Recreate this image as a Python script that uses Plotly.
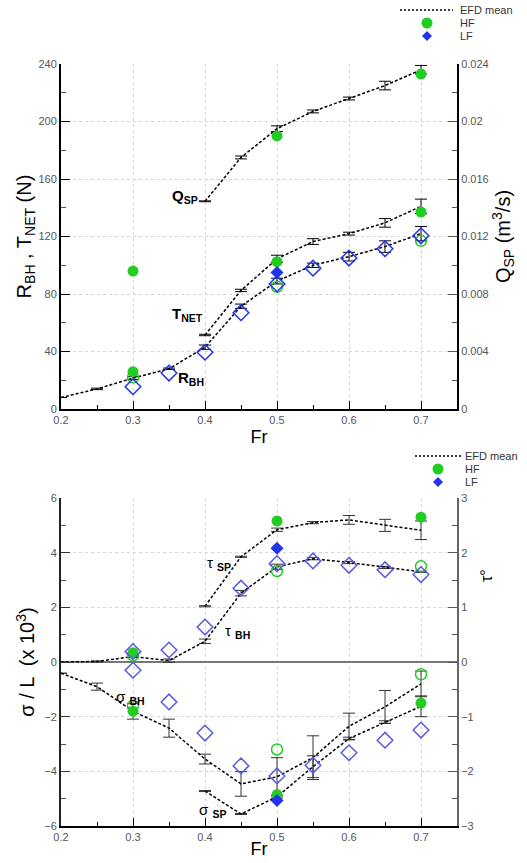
import plotly.graph_objects as go

# ---------------- data: top panel (forces / flow rate) ----------------
FR_BH = [0.2, 0.25, 0.3, 0.35, 0.4, 0.45, 0.5, 0.55, 0.6, 0.65, 0.7]
R_BH_EFD = [8, 14, 21.5, 28, 43, 71.5, 89, 100, 106, 113, 122]
R_BH_ERR = [0, 0.5, 1, 0.5, 1.5, 1.5, 2, 1.5, 3, 4, 5]

FR_SP = [0.4, 0.45, 0.5, 0.55, 0.6, 0.65, 0.7]
T_NET_EFD = [51.5, 82.5, 104.5, 116.5, 122, 129.5, 141]
T_NET_ERR = [0.5, 0.8, 2.5, 2, 1, 3, 5]
Q_SP_EFD = [0.01445, 0.0175, 0.0195, 0.0207, 0.0216, 0.0225, 0.0236]
Q_SP_ERR = [0.00003, 0.0001, 0.0002, 0.0001, 0.0001, 0.0003, 0.0003]

FR_HF = [0.3, 0.5, 0.7]
T_NET_HF = [26, 102.5, 137]
Q_SP_HF = [0.0096, 0.019, 0.0233]
R_BH_HF = [22, 85, 117]

FR_LF_T = [0.5]
T_NET_LF = [95]
FR_LF = [0.3, 0.35, 0.4, 0.45, 0.5, 0.55, 0.6, 0.65, 0.7]
R_BH_LF = [15.5, 25, 39.5, 67, 87, 98, 105, 111.5, 120.5]

# ---------------- data: bottom panel (sinkage / trim) ----------------
TAU_BH_EFD = [0, 0.01, 0.1, 0.025, 0.38, 1.26, 1.74, 1.89, 1.82, 1.73, 1.65]   # deg
TAU_BH_ERR = [0, 0.01, 0.02, 0.03, 0.04, 0.05, 0.05, 0.02, 0.02, 0.02, 0.01]
SIG_BH_EFD = [-0.41, -0.9, -1.8, -2.42, -3.55, -4.46, -4.2, -3.5, -2.35, -1.64, -0.8]  # x10^3
SIG_BH_ERR = [0, 0.13, 0.29, 0.33, 0.18, 0.45, 0.7, 0.8, 0.48, 0.6, 0.47]

TAU_SP_EFD = [1.02, 1.925, 2.42, 2.55, 2.6, 2.5, 2.41]  # deg
TAU_SP_ERR = [0.01, 0.01, 0.03, 0.02, 0.08, 0.11, 0.17]
SIG_SP_EFD = [-4.72, -5.56, -4.93, -3.83, -2.8, -2.2, -1.62]
SIG_SP_ERR = [0.02, 0.02, 0.05, 0.4, 0.05, 0.05, 0.38]

TAU_HF_F = [0.17, 2.58, 2.65]
SIG_HF_F = [-1.8, -4.85, -1.5]
TAU_HF_O = [0.12, 1.665, 1.75]
SIG_HF_O = [-1.6, -3.2, -0.45]

TAU_LF_F = [2.08]
SIG_LF_F = [-5.07]
TAU_LF_O = [0.19, 0.22, 0.64, 1.35, 1.8, 1.85, 1.77, 1.69, 1.6]
SIG_LF_O = [-0.3, -1.46, -2.6, -3.8, -4.17, -3.78, -3.32, -2.86, -2.49]

LEGEND_NAMES = ["EFD mean", "HF", "LF"]

GREEN = "#22cc22"
BLUE = "#2233ee"
BLUE2 = "#5a5ae0"
DASH = "3px,2px"
FONT = "Liberation Sans, Arial, sans-serif"

W, H = 527, 863
ML, MR, MT, MB = 61, 70, 64, 37
PW, PH = W - ML - MR, H - MT - MB

fig = go.Figure()


def efd(x, y, err, xa, ya, color="black", ecol="black"):
    fig.add_trace(go.Scatter(
        x=x, y=y, xaxis=xa, yaxis=ya, mode="lines", showlegend=False,
        line=dict(color=color, width=1.5, dash=DASH),
        error_y=dict(type="data", array=err, color=ecol, thickness=1, width=6),
    ))


def pts(x, y, xa, ya, symbol, color, size, lw=1.5):
    fig.add_trace(go.Scatter(
        x=x, y=y, xaxis=xa, yaxis=ya, mode="markers", showlegend=False,
        marker=dict(symbol=symbol, color=color, size=size,
                    line=dict(color=color, width=lw)),
    ))


# top panel
efd(FR_BH, R_BH_EFD, R_BH_ERR, "x", "y")
efd(FR_SP, T_NET_EFD, T_NET_ERR, "x", "y")
efd(FR_SP, Q_SP_EFD, Q_SP_ERR, "x", "y2")
pts(FR_HF, R_BH_HF, "x", "y", "circle-open", GREEN, 11)
pts(FR_LF, R_BH_LF, "x", "y", "diamond-open", BLUE, 12)
pts(FR_HF, T_NET_HF, "x", "y", "circle", GREEN, 11, 0)
pts(FR_HF, Q_SP_HF, "x", "y2", "circle", GREEN, 11, 0)
pts(FR_LF_T, T_NET_LF, "x", "y", "diamond", BLUE, 10, 0)

# bottom panel
efd(FR_BH, TAU_BH_EFD, TAU_BH_ERR, "x2", "y4", ecol="#333")
efd(FR_SP, TAU_SP_EFD, TAU_SP_ERR, "x2", "y4", ecol="#333")
efd(FR_BH, SIG_BH_EFD, SIG_BH_ERR, "x2", "y3", ecol="#333")
efd(FR_SP, SIG_SP_EFD, SIG_SP_ERR, "x2", "y3", ecol="#333")
pts(FR_HF, TAU_HF_O, "x2", "y4", "circle-open", GREEN, 11)
pts(FR_HF, SIG_HF_O, "x2", "y3", "circle-open", GREEN, 11)
pts(FR_HF, TAU_HF_F, "x2", "y4", "circle", GREEN, 11, 0)
pts(FR_HF, SIG_HF_F, "x2", "y3", "circle", GREEN, 11, 0)
pts(FR_LF, TAU_LF_O, "x2", "y4", "diamond-open", BLUE2, 12)
pts(FR_LF, SIG_LF_O, "x2", "y3", "diamond-open", BLUE2, 12)
pts(FR_LF_T, TAU_LF_F, "x2", "y4", "diamond", BLUE, 10, 0)
pts(FR_LF_T, SIG_LF_F, "x2", "y3", "diamond", BLUE, 10, 0)

TICKF = dict(family=FONT, size=11, color="#555")
TITLEF = dict(family=FONT, size=20, color="black")
GRID = dict(showgrid=True, gridcolor="#d6d6d6", griddash="dot", gridwidth=1)


def xax(anchor, standoff):
    return dict(range=[0.2, 0.75], dtick=0.1, tick0=0.2, anchor=anchor, automargin=False,
                ticks="inside", ticklen=8, tickcolor="black", tickwidth=1,
                minor=dict(dtick=0.05, ticks="inside", ticklen=4, tickcolor="black", showgrid=False),
                showline=True, linecolor="black", linewidth=2, zeroline=False,
                tickfont=TICKF, title=dict(text="Fr", font=dict(family=FONT, size=18, color="black"),
                                          standoff=standoff),
                **GRID)


TOPD = [0.5472, 1.0]
BOTD = [0.0, 0.4304]

fig.update_layout(
    width=W, height=H,
    margin=dict(l=ML, r=MR, t=MT, b=MB),
    paper_bgcolor="white", plot_bgcolor="white",
    font=dict(family=FONT), showlegend=False,
    xaxis=xax("y", 5),
    xaxis2=xax("y3", 0),
    yaxis=dict(domain=TOPD, range=[0, 240], dtick=40, ticks="inside", ticklen=9, automargin=False,
               tickcolor="black", minor=dict(dtick=20, ticks="inside", ticklen=5, tickcolor="#555", showgrid=False),
               showline=True, linecolor="black", linewidth=2, zeroline=False,
               tickfont=TICKF, title=dict(text="R<sub>BH</sub> , T<sub>NET</sub> (N)", font=TITLEF, standoff=1),
               **GRID),
    yaxis2=dict(overlaying="y", side="right", range=[0, 0.024], dtick=0.004, anchor="x", automargin=False,
                ticks="inside", ticklen=9, tickcolor="#555",
                minor=dict(dtick=0.002, ticks="inside", ticklen=5, tickcolor="#555"),
                showline=True, linecolor="black", linewidth=2, showgrid=False, zeroline=False,
                tickfont=TICKF, title=dict(text="Q<sub>SP</sub> (m<sup>3</sup>/s)", font=TITLEF, standoff=4)),
    yaxis3=dict(domain=BOTD, range=[-6, 6], dtick=2, anchor="x2", ticks="inside", ticklen=9, automargin=False,
                tickcolor="#333", minor=dict(dtick=1, ticks="inside", ticklen=5, tickcolor="#555", showgrid=False),
                showline=True, linecolor="#222", linewidth=2,
                zeroline=True, zerolinecolor="#777", zerolinewidth=1.5,
                tickfont=TICKF, title=dict(text="σ / L  (x 10<sup>3</sup>)", font=TITLEF, standoff=4),
                **GRID),
    yaxis4=dict(overlaying="y3", side="right", range=[-3, 3], dtick=1, anchor="x2", automargin=False,
                ticks="inside", ticklen=9, tickcolor="#555",
                minor=dict(dtick=0.5, ticks="inside", ticklen=5, tickcolor="#555"),
                showline=True, linecolor="#666", linewidth=2, showgrid=False, zeroline=False,
                tickfont=TICKF),
)


def px2paper(px, py):
    return (px - ML) / PW, (MT + PH - py) / PH


LABF = dict(family=FONT, size=15, color="black")
ann = [
    dict(x=0.372, y=147.5, xref="x", yref="y", text="<b>Q<sub>SP</sub></b>"),
    dict(x=0.375, y=66, xref="x", yref="y", text="<b>T<sub>NET</sub></b>"),
    dict(x=0.381, y=21.5, xref="x", yref="y", text="<b>R<sub>BH</sub></b>"),
    dict(x=0.419, y=3.6, xref="x2", yref="y3", text="τ <sub><b>SP</b></sub>"),
    dict(x=0.445, y=1.1, xref="x2", yref="y3", text="τ <sub><b>BH</b></sub>"),
    dict(x=0.297, y=-1.28, xref="x2", yref="y3", text="σ <sub><b>BH</b></sub>"),
    dict(x=0.411, y=-5.45, xref="x2", yref="y3", text="σ <sub><b>SP</b></sub>"),
]
for a in ann:
    fig.add_annotation(**a, showarrow=False, font=LABF)

# right-axis title of the lower panel (placed off-centre as in the source)
tx, ty = px2paper(497, 584)
fig.add_annotation(x=tx, y=ty, xref="paper", yref="paper", text="τ°", textangle=-90,
                   showarrow=False, font=dict(family=FONT, size=16, color="black"))

# hand-made compact legends (line sample, green circle, blue diamond)
LEGF = dict(family=FONT, size=11, color="#333")
for (lx0, lx1, sx, tx_, y0) in ((400, 453, 427, 458, 10), (415, 462, 438, 463, 456)):
    rows = [y0, y0 + 13, y0 + 26]
    xa, ya = px2paper(lx0, rows[0])
    xb, _ = px2paper(lx1, rows[0])
    fig.add_shape(type="line", xref="paper", yref="paper", x0=xa, x1=xb, y0=ya, y1=ya,
                  line=dict(color="black", width=1.5, dash="2px,2px"))
    cx, cy = px2paper(sx, rows[1])
    fig.add_shape(type="circle", xref="paper", yref="paper", xsizemode="pixel", ysizemode="pixel",
                  xanchor=cx, yanchor=cy, x0=-5.5, x1=5.5, y0=-5.5, y1=5.5,
                  fillcolor=GREEN, line=dict(width=0))
    dx, dy = px2paper(sx, rows[2])
    fig.add_shape(type="path", xref="paper", yref="paper", xsizemode="pixel", ysizemode="pixel",
                  xanchor=dx, yanchor=dy, path="M 0 5 L 5 0 L 0 -5 L -5 0 Z",
                  fillcolor=BLUE, line=dict(width=0))
    for name, ry in zip(LEGEND_NAMES, rows):
        ax_, ay_ = px2paper(tx_, ry)
        fig.add_annotation(x=ax_, y=ay_, xref="paper", yref="paper", text=name, xanchor="left",
                           yanchor="middle", showarrow=False, font=LEGF)

fig.write_html("out.html", config={"displayModeBar": False},
               post_script="document.body.style.margin='0px';")
